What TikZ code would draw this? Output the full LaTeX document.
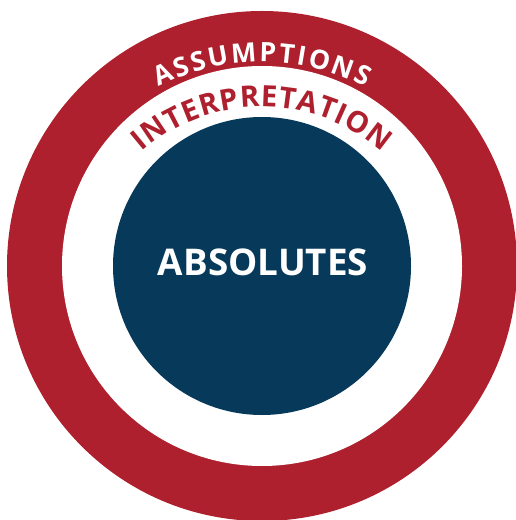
\documentclass[tikz,border=0pt]{standalone}
\usepackage{fontspec}
\newfontfamily\opensans{Open Sans}
\usetikzlibrary{decorations.text}
\definecolor{ringred}{RGB}{174,32,46}
\definecolor{corenavy}{RGB}{7,57,90}
\tikzset{every picture/.style={line width=0.75pt}}
\tikzset{
  arch text/.style={decorate, decoration={text along path, text align=fit to path, text color=#1}},
}

\begin{document}
\begin{tikzpicture}[x=0.75pt,y=0.75pt,yscale=-1,xscale=1]
\useasboundingbox (0,0) rectangle (516,520);
\coordinate (core) at (262,266);
\coordinate (assumeC) at (262,290);
\coordinate (interpC) at (262,290);

%Shape: Circle [outer ring]
\fill [ringred] (core) circle [radius=255];
%Shape: Circle [white band]
\fill [white] (core) circle [radius=200];
%Shape: Circle [core]
\fill [corenavy] (core) circle [radius=149];

%Arched text in the red ring
\path [arch text=white, decoration={text={|\opensans\bfseries\fontsize{20}{24}\selectfont|ASSUMPTIONS}}] ([shift={(243:228)}]assumeC) arc [start angle=243, end angle=297, radius=228];
%Arched text in the white band
\path [arch text=ringred, decoration={text={|\opensans\bfseries\fontsize{22}{26}\selectfont|INTERPRETATION}}] ([shift={(229:183)}]interpC) arc [start angle=229, end angle=311, radius=183];

% Text Node
\node (absolutes) at (263,262) [inner sep=0pt, text=white, font=\opensans\bfseries\fontsize{27.6}{32}\selectfont] {ABSOLUTES};

\end{tikzpicture}
\end{document}
